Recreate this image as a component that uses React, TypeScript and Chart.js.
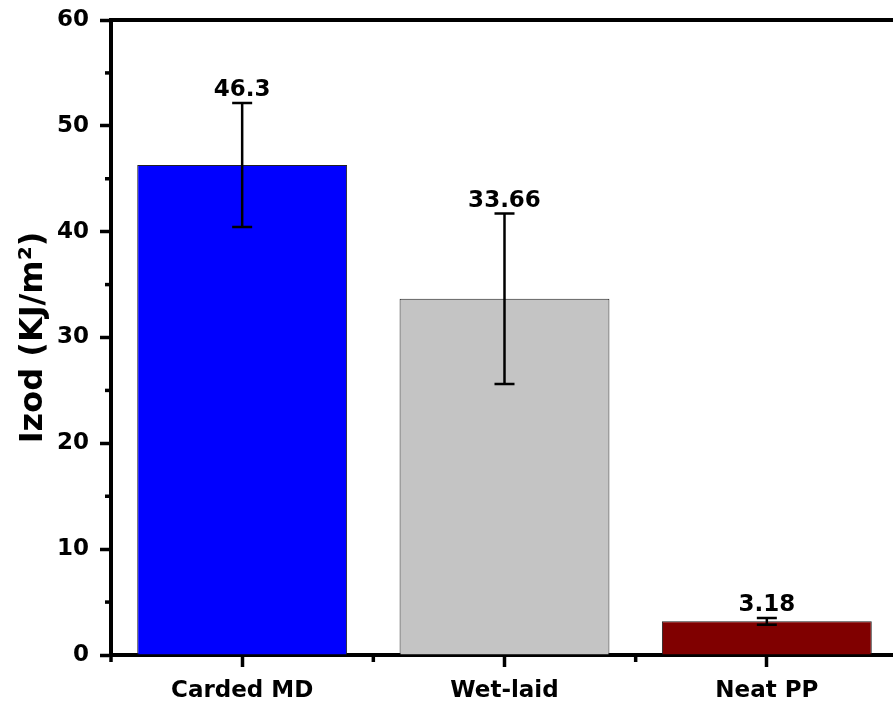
import React, { useEffect, useRef } from "react";
import { Chart, registerables } from "chart.js";

Chart.register(...registerables);

const categories = ["Carded MD", "Wet-laid", "Neat PP"];
const izodValues = [46.3, 33.66, 3.18];
const izodErrors = [5.85, 8.05, 0.32];
const valueLabels = ["46.3", "33.66", "3.18"];
const barColors = ["#0000FF", "#C4C4C4", "#800000"];
const yMin = 0;
const yMax = 60;
const yStep = 10;
const yMinorValues = [5, 15, 25, 35, 45, 55];

const FONT = "'DejaVu Sans', 'Liberation Sans', Arial, sans-serif";

const decorPlugin = {
  id: "decor",
  afterDatasetsDraw(chart: any) {
    const ctx = chart.ctx;
    const ys = chart.scales.y;
    const meta = chart.getDatasetMeta(0);
    ctx.save();
    ctx.strokeStyle = "#000";
    ctx.lineWidth = 2.5;
    meta.data.forEach((el: any, i: number) => {
      const x = el.x;
      const yt = ys.getPixelForValue(izodValues[i] + izodErrors[i]);
      const yb = ys.getPixelForValue(izodValues[i] - izodErrors[i]);
      ctx.beginPath();
      ctx.moveTo(x, yt);
      ctx.lineTo(x, yb);
      ctx.moveTo(x - 10, yt);
      ctx.lineTo(x + 10, yt);
      ctx.moveTo(x - 10, yb);
      ctx.lineTo(x + 10, yb);
      ctx.stroke();
      ctx.fillStyle = "#000";
      ctx.font = `bold 23px ${FONT}`;
      ctx.textAlign = "center";
      ctx.textBaseline = "alphabetic";
      ctx.fillText(valueLabels[i], x, yt - 7);
    });
    ctx.restore();
  },
  afterDraw(chart: any) {
    const ctx = chart.ctx;
    const xs = chart.scales.x;
    const ys = chart.scales.y;
    const area = chart.chartArea;
    ctx.save();
    ctx.strokeStyle = "#000";
    ctx.lineWidth = 4;
    ctx.beginPath();
    ctx.moveTo(area.left - 2, area.top);
    ctx.lineTo(area.right + 2, area.top);
    ctx.stroke();
    ctx.lineWidth = 3.5;
    yMinorValues.forEach((v) => {
      const y = ys.getPixelForValue(v);
      ctx.beginPath();
      ctx.moveTo(area.left - 6, y);
      ctx.lineTo(area.left, y);
      ctx.stroke();
    });
    const half = (xs.getPixelForValue(1) - xs.getPixelForValue(0)) / 2;
    for (let i = 0; i <= categories.length; i++) {
      const x = xs.getPixelForValue(0) - half + i * 2 * half;
      ctx.beginPath();
      ctx.moveTo(x, area.bottom);
      ctx.lineTo(x, area.bottom + 7);
      ctx.stroke();
    }
    ctx.restore();
  },
};

export default function App() {
  const ref = useRef<HTMLCanvasElement>(null);
  useEffect(() => {
    if (!ref.current) return;
    Chart.defaults.font.family = FONT;
    const chart = new Chart(ref.current, {
      type: "bar",
      data: {
        labels: categories,
        datasets: [
          {
            data: izodValues,
            backgroundColor: barColors,
            borderColor: "#222222",
            borderWidth: 1,
            barPercentage: 0.8,
            categoryPercentage: 1,
          },
        ],
      },
      options: {
        responsive: false,
        animation: false,
        layout: { padding: { top: 20, right: 2, left: 0, bottom: 0 } },
        plugins: { legend: { display: false }, tooltip: { enabled: false } },
        scales: {
          x: {
            type: "category",
            offset: true,
            grid: {
              offset: false,
              drawOnChartArea: false,
              drawTicks: true,
              tickLength: 12,
              tickWidth: 3.5,
              tickColor: "#000",
            },
            border: { display: true, width: 4, color: "#000" },
            ticks: {
              color: "#000",
              padding: 10,
              font: { size: 23, weight: "bold", family: FONT },
            },
            afterFit(scale: any) {
              scale.height = 55;
              scale.paddingLeft = 0;
              scale.paddingRight = 0;
            },
          },
          y: {
            min: yMin,
            max: yMax,
            grid: {
              drawOnChartArea: false,
              drawTicks: true,
              tickLength: 11,
              tickWidth: 3.5,
              tickColor: "#000",
            },
            border: { display: true, width: 4, color: "#000" },
            ticks: {
              stepSize: yStep,
              color: "#000",
              padding: 11,
              font: { size: 23, weight: "bold", family: FONT },
            },
            title: {
              display: true,
              text: "Izod (KJ/m²)",
              color: "#000",
              font: { size: 32, weight: "bold", family: FONT },
              padding: { top: 14, bottom: 0 },
            },
            afterFit(scale: any) {
              scale.width = 111;
              scale.paddingTop = 0;
              scale.paddingBottom = 0;
            },
          },
        },
      },
      plugins: [decorPlugin],
    });
    return () => chart.destroy();
  }, []);
  return (
    <div
      style={{
        position: "fixed",
        left: 0,
        top: 0,
        width: 893,
        height: 710,
        overflow: "hidden",
        background: "#fff",
      }}
    >
      <canvas ref={ref} width={900} height={710} style={{ display: "block", width: 900, height: 710 }} />
    </div>
  );
}
